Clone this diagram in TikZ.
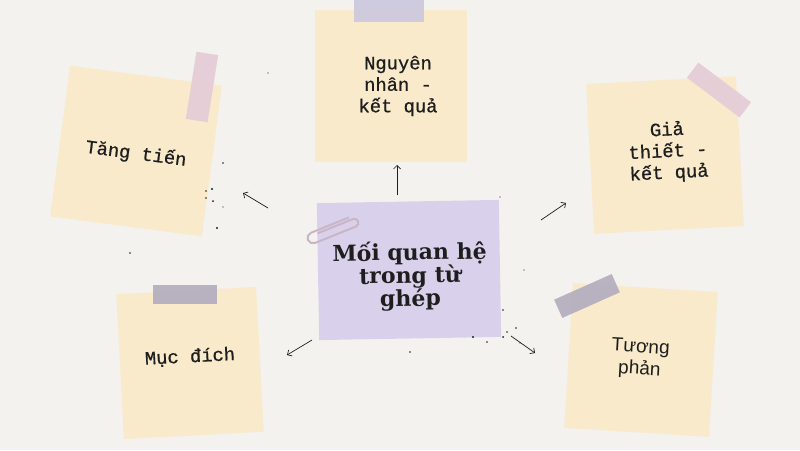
\documentclass[tikz,border=0pt]{standalone}
\usepackage{fontspec}
\usetikzlibrary{arrows.meta}

\newfontfamily\notefont[FakeBold=0.8]{Liberation Mono}
\newfontfamily\plainfont{Liberation Sans}
\newfontfamily\titlefont{DejaVu Serif}

\definecolor{paper}{HTML}{F4F2EE}
\definecolor{notecol}{HTML}{F8EACB}
\definecolor{lilac}{HTML}{D9D1EB}
\definecolor{tapegray}{HTML}{B3ADBE}
\definecolor{tapepink}{HTML}{E4CCD6}
\definecolor{tapelav}{HTML}{CCC8DE}
\definecolor{clipcol}{HTML}{C9B5C6}
\definecolor{ink}{HTML}{1E1E1E}

\begin{document}
\begin{tikzpicture}[x=1pt, y=-1pt]

%\path (0,0) grid[step=50] (800,450);
\fill[paper] (0,0) rectangle (800,450);
\useasboundingbox (0,0) rectangle (800,450);

% styles
\pgfkeys{/note/.style={fill=notecol, inner sep=0, minimum width=150pt, minimum height=150pt}} % yellow sticky notes
\pgfkeys{/memo/.style={/note, fill=lilac, minimum width=182pt, minimum height=137pt}} % centre note
\pgfkeys{/words/.style={inner sep=0, align=center, text=ink, font={\notefont\fontsize{18.8}{21.5}\selectfont}}} % text on a note
\pgfkeys{/title/.style={/words, font={\titlefont\bfseries\fontsize{22}{23}\selectfont}}} % text on the centre note
\pgfkeys{/tape/.style={inner sep=0, fill opacity=0.92}} % bits of tape
\pgfkeys{/link/.style={draw=ink, line width=0.7pt, -{Straight Barb[length=3.5pt, width=7pt]}}} % arrows
\pgfkeys{/speck/.style={fill=ink}} % ink dots

% notes
\node[/note, rotate=-7.5, minimum width=153pt, minimum height=152pt] (tang) at (136,151) {};
\node[/note, minimum width=152pt, minimum height=152pt] (nguyen) at (391,86) {};
\node[/note, rotate=3] (giathiet) at (665,155) {};
\node[/note, rotate=3, minimum width=140pt, minimum height=145pt] (mucdich) at (190,363) {};
\node[/note, rotate=-3.5, minimum width=145pt, minimum height=145pt] (tuongphan) at (641,360) {};
\node[/memo, rotate=1] (core) at (409,270) {};

% texts
\node[/words, rotate=-7.5] (tang-txt) at (136,154) {Tăng tiến};
\node[/words] (nguyen-txt) at (398,86) {Nguyên\\nhân -\\kết quả};
\node[/words, rotate=3] (giathiet-txt) at (668,152) {Giả\\thiết -\\kết quả};
\node[/words, rotate=3] (mucdich-txt) at (190,357) {Mục đích};
\node[/words, rotate=-3.5, font={\plainfont\fontsize{19}{22}\selectfont}] (tuongphan-txt) at (640,359) {Tương\\phản};
\node[/title, rotate=1] (core-txt) at (410,276) {Mối quan hệ\\trong từ\\ghép};

% tape
\node[/tape, fill=tapelav, minimum width=70pt, minimum height=22pt] (tapeN) at (389,11) {};
\node[/tape, fill=tapepink, minimum width=22pt, minimum height=68pt, rotate=-9] (tapeT) at (202,87) {};
\node[/tape, fill=tapepink, minimum width=66pt, minimum height=19pt, rotate=-37] (tapeG) at (719,90) {};
\node[/tape, fill=tapegray, minimum width=64pt, minimum height=19pt] (tapeM) at (185,294) {};
\node[/tape, fill=tapegray, minimum width=63pt, minimum height=20pt, rotate=24] (tapeP) at (587,296) {};

% paper clip
\begin{scope}[shift={(331,229)}, rotate=22]
\draw[clipcol, line width=2pt] (21,-4) -- (-20,-4) arc[start angle=-90, end angle=-270, radius=5.5] -- (24,7) arc[start angle=90, end angle=-90, radius=4] -- (-14,-1);
\end{scope}

% arrow ends
\coordinate (tang-s) at (268,208);
\coordinate (tang-e) at (243,193);
\coordinate (nguyen-s) at (397,195);
\coordinate (nguyen-e) at (397,165);
\coordinate (giathiet-s) at (541,220);
\coordinate (giathiet-e) at (566,203);
\coordinate (mucdich-s) at (312,340);
\coordinate (mucdich-e) at (287,355);
\coordinate (tuongphan-s) at (511,336);
\coordinate (tuongphan-e) at (535,353);

\foreach \n in {tang, nguyen, giathiet, mucdich, tuongphan} {
\draw[/link] (\n-s) -- (\n-e);
}

% specks
\foreach \x/\y/\r in {223/163/0.9, 212/189/1.1, 206/191/0.8, 213/201/1, 206/198/0.8, 223/207/0.6, 217/228/1.1, 268/73/0.6, 130/253/0.8,
500/197/0.7, 503/310/0.9, 473/337/1.1, 503/337/1, 507/332/0.8, 487/342/0.8, 516/328/0.8, 524/270/0.7, 410/352/0.8, 520/343/0.7} {
\fill[/speck] (\x,\y) circle (\r pt);
}

\end{tikzpicture}
\end{document}
